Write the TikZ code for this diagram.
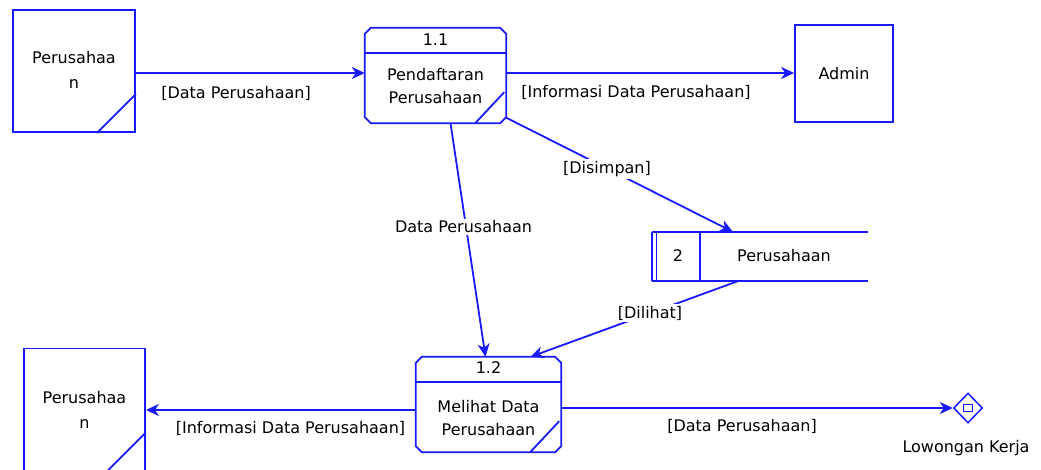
\documentclass[tikz,border=0pt]{standalone}
\usepackage{fontspec}
\setmainfont{DejaVu Sans}
\usetikzlibrary{arrows.meta,calc,shapes.geometric}
\definecolor{dfd}{RGB}{25,25,255}
\tikzset{
  edge/.style={draw=dfd, line width=1.8pt},
  flow/.style={edge, -{Stealth[length=13pt,width=12pt,inset=4pt]}},
  entbox/.style={draw=dfd, line width=1.8pt, minimum width=122pt, minimum height=122pt, inner sep=0pt},
  procbox/.style={minimum height=95pt, inner sep=0pt},
  txt/.style={font=\fontsize{16}{23}\selectfont, text=black, align=center, inner sep=1pt},
  enttxt/.style={txt, font=\fontsize{16}{25}\selectfont},
  lbl/.style={txt, fill=white, inner sep=2pt},
}
\newcommand\procdraw[1]{%
  \draw[edge] ($(#1.north west)+(6,0)$) -- ($(#1.north east)+(-6,0)$) -- ($(#1.north east)+(0,6)$)
    -- ($(#1.south east)+(0,-6)$) -- ($(#1.south east)+(-6,0)$) -- ($(#1.south west)+(6,0)$)
    -- ($(#1.south west)+(0,-6)$) -- ($(#1.north west)+(0,6)$) -- cycle;
  \draw[edge] ($(#1.north west)+(0,25)$) -- ($(#1.north east)+(0,25)$);
  \draw[edge] ($(#1.south east)+(-2,-31)$) -- ($(#1.south east)+(-31,0)$);}
\begin{document}
\begin{tikzpicture}[x=1pt,y=-1pt]
\useasboundingbox (0,0) rectangle (1041,469);
\coordinate (y73) at (0,73);
\coordinate (y408) at (0,408);
\coordinate (y410) at (0,410);
% external entities
\node[entbox] (e1) at (74,71) {};
\node[enttxt] (e1t) at (74,70) {Perusahaa\\n};
\draw[edge] ($(e1.south east)+(0,-39)$) -- ($(e1.south east)+(-39,0)$);
\node[entbox, minimum width=121pt] (e2) at (84.5,409.5) {};
\node[enttxt] (e2t) at (84.5,410) {Perusahaa\\n};
\draw[edge] ($(e2.south east)+(0,-39)$) -- ($(e2.south east)+(-39,0)$);
\node[draw=dfd, line width=1.8pt, minimum width=98pt, minimum height=97pt, inner sep=0pt] (adm) at (844,73.5) {};
\node[txt] (admt) at (844,73.5) {Admin};
% processes
\node[procbox, minimum width=141pt] (p1) at (435.5,75.5) {};
\procdraw{p1}
\node[txt] (p1n) at (435.5,40) {1.1};
\node[txt] (p1t) at (435.5,86.5) {Pendaftaran\\Perusahaan};
\node[procbox, minimum width=145pt] (p2) at (488.5,404.5) {};
\procdraw{p2}
\node[txt] (p2n) at (488.5,368) {1.2};
\node[txt] (p2t) at (488.5,418.5) {Melihat Data\\Perusahaan};
% data store
\node[minimum width=216pt, minimum height=49pt, inner sep=0pt] (st) at (760,256.5) {};
\draw[edge] (st.north west) -- (st.north east);
\draw[edge] (st.south west) -- (st.south east);
\draw[edge] (st.north west) -- (st.south west);
\draw[edge, line width=1.3pt] ($(st.north west)+(5,0)$) -- ($(st.south west)+(5,0)$);
\draw[edge] ($(st.north west)+(48,0)$) -- ($(st.south west)+(48,0)$);
\node[txt] (stn) at (678,256) {2};
\node[txt] (stt) at (784,256) {Perusahaan};
% terminator
\node[diamond, draw=dfd, line width=1.5pt, minimum width=29pt, minimum height=30pt, inner sep=0pt] (lk) at (968,408) {};
\node[draw=dfd, line width=1.3pt, minimum width=9pt, minimum height=7pt, inner sep=0pt] (lksq) at (lk) {};
\node[txt] (lkt) at (966,448) {Lowongan Kerja};
% flows
\draw[flow] (e1.east |- y73) -- (p1.west |- y73);
\node[txt] (l1) at (236,93) {[Data Perusahaan]};
\draw[flow] (p1.east |- y73) -- (adm.west |- y73);
\node[txt] (l2) at (636,92) {[Informasi Data Perusahaan]};
\draw[flow] ($(p1.south east)+(-1,-6)$) -- ($(st.north west)+(81,0)$);
\node[lbl] (l3) at (607,169) {[Disimpan]};
\draw[flow] ($(p1.south)+(15,0)$) -- ($(p2.north)+(-3,0)$);
\node[lbl] (l4) at (463.5,227) {Data Perusahaan};
\draw[flow] ($(st.south west)+(86,0)$) -- ($(p2.north)+(42,0)$);
\node[lbl] (l5) at (650,313) {[Dilihat]};
\draw[flow] (p2.west |- y410) -- (e2.east |- y410);
\node[txt] (l6) at (290.5,428) {[Informasi Data Perusahaan]};
\draw[flow] (p2.east |- y408) -- (lk.west);
\node[txt] (l7) at (742,426) {[Data Perusahaan]};
\end{tikzpicture}
\end{document}
